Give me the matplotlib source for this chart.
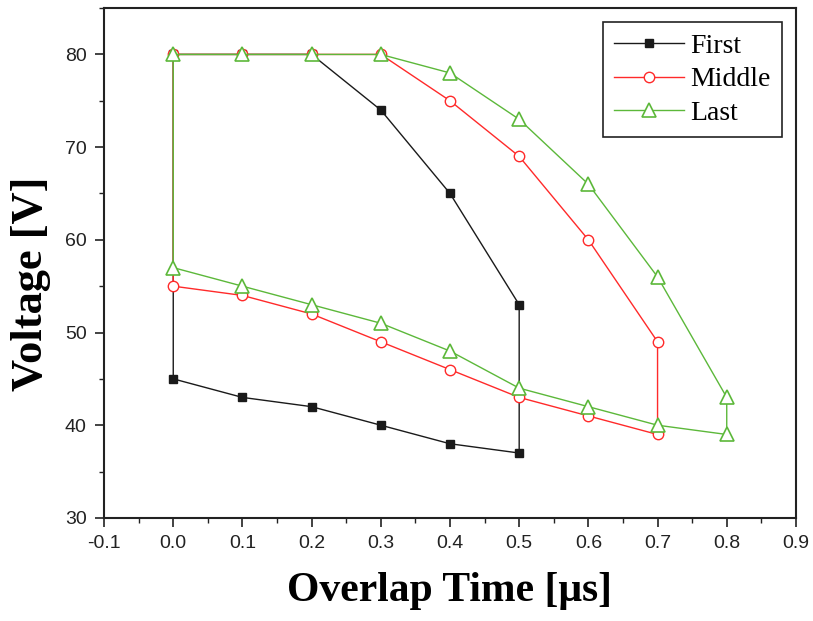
import matplotlib
matplotlib.use("Agg")
import matplotlib.pyplot as plt
from matplotlib.ticker import MultipleLocator

first_x = [0.0, 0.1, 0.2, 0.3, 0.4, 0.5, 0.5, 0.4, 0.3, 0.2, 0.1, 0.0, 0.0]
first_y = [80, 80, 80, 74, 65, 53, 37, 38, 40, 42, 43, 45, 80]

middle_x = [0.0, 0.1, 0.2, 0.3, 0.4, 0.5, 0.6, 0.7, 0.7, 0.6, 0.5, 0.4, 0.3, 0.2, 0.1, 0.0, 0.0]
middle_y = [80, 80, 80, 80, 75, 69, 60, 49, 39, 41, 43, 46, 49, 52, 54, 55, 80]

last_x = [0.0, 0.1, 0.2, 0.3, 0.4, 0.5, 0.6, 0.7, 0.8, 0.8, 0.7, 0.6, 0.5, 0.4, 0.3, 0.2, 0.1, 0.0, 0.0]
last_y = [80, 80, 80, 80, 78, 73, 66, 56, 43, 39, 40, 42, 44, 48, 51, 53, 55, 57, 80]

x_ticks = [-0.1, 0.0, 0.1, 0.2, 0.3, 0.4, 0.5, 0.6, 0.7, 0.8, 0.9]
y_ticks = [30, 40, 50, 60, 70, 80]

tick_font = ["Liberation Sans Narrow", "Liberation Sans", "DejaVu Sans"]
serif_font = ["Liberation Serif", "DejaVu Serif"]

fig = plt.figure(figsize=(8.13, 6.21), dpi=100)
ax = fig.add_axes([0.128, 0.166, 0.851, 0.821])

black = "#1a1a1a"
red = "#ff2a2a"
green = "#5cb83a"

ax.plot(first_x, first_y, color=black, lw=1.0, marker="s", ms=6,
        mfc=black, mec=black, label="First", markevery=list(range(len(first_x) - 1)))
ax.plot(middle_x, middle_y, color=red, lw=1.0, marker="o", ms=7.5,
        mfc="white", mec=red, mew=1.0, label="Middle", markevery=list(range(len(middle_x) - 1)))
ax.plot(last_x, last_y, color=green, lw=1.0, marker="^", ms=10,
        mfc="white", mec=green, mew=1.2, label="Last", markevery=list(range(len(last_x) - 1)))

ax.set_xlim(-0.1, 0.9)
ax.set_ylim(30, 85)
ax.set_xticks(x_ticks)
ax.set_xticklabels([f"{v:.1f}" for v in x_ticks])
ax.set_yticks(y_ticks)
ax.xaxis.set_minor_locator(MultipleLocator(0.05))
ax.yaxis.set_minor_locator(MultipleLocator(5))
ax.tick_params(which="major", direction="out", length=6.5, width=1.2, labelsize=14,
               colors="#222222", pad=6)
ax.tick_params(which="minor", direction="out", length=3.5, width=1.0, colors="#222222")
for lab in ax.get_xticklabels() + ax.get_yticklabels():
    lab.set_fontfamily(tick_font)

for s in ax.spines.values():
    s.set_linewidth(1.5)
    s.set_color("#222222")

ax.set_xlabel("Overlap Time [μs]", fontsize=30, fontweight="bold", family=serif_font, labelpad=14)
ax.set_ylabel("Voltage [V]", fontsize=32, fontweight="bold", family=serif_font)
ax.yaxis.set_label_coords(-0.076, 0.46)

leg = ax.legend(loc="upper right", prop={"family": serif_font, "size": 20},
                frameon=True, fancybox=False, edgecolor="#222222", framealpha=1,
                borderpad=0.4, labelspacing=0.3, handlelength=2.5, handletextpad=0.25,
                borderaxespad=0, bbox_to_anchor=(0.98, 0.9725))
leg.get_frame().set_linewidth(1.2)

fig.savefig("out.png", dpi=100)
